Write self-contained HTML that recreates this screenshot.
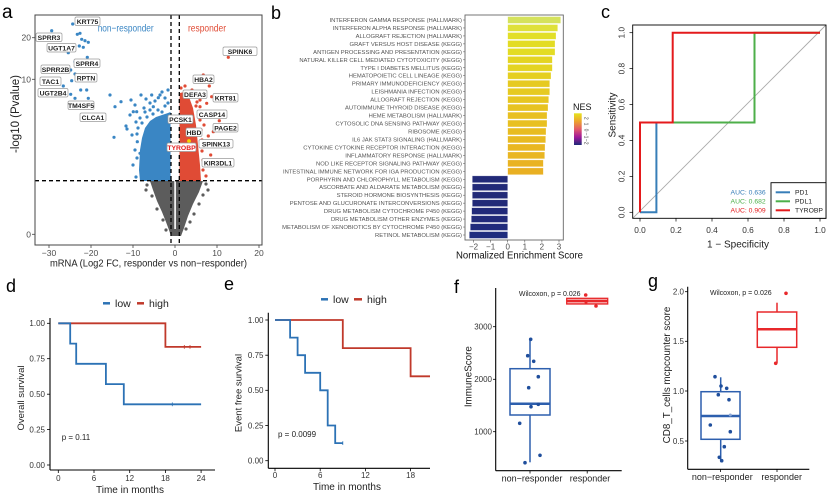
<!DOCTYPE html>
<html><head><meta charset="utf-8"><style>
html,body{margin:0;padding:0;background:#fff;}
svg{display:block;font-family:"Liberation Sans",Arial,sans-serif;}
</style></head><body>
<svg width="830" height="501" viewBox="0 0 830 501" xmlns="http://www.w3.org/2000/svg">
<rect width="830" height="501" fill="#fff"/>
<defs>
<linearGradient id="nes" x1="0" y1="0" x2="0" y2="1">
<stop offset="0" stop-color="#e6e31e"/><stop offset="0.25" stop-color="#eda52c"/><stop offset="0.5" stop-color="#e35a6a"/><stop offset="0.75" stop-color="#a0189a"/><stop offset="1" stop-color="#1e2a78"/>
</linearGradient>
</defs>

<!-- ============ PANEL A ============ -->
<text x="2" y="18" font-size="19" fill="#000">a</text>
<!-- clouds -->
<polygon fill="#5c5c5c" points="150,181 203,181 199,192 193,204 188,216 184,228 181,236 171,236 169,230 166,222 162,212 157,201 153,190"/>
<polygon fill="#3a86c4" points="170.5,181 140,181 139,170 140,150 142,138 145,128 150,121 156,117 162,115 168,113 170.5,112"/>
<polygon fill="#e04b35" points="179.5,181 201,181 200,165 198,145 196,125 193,108 189,97 184,92 180,93 179.5,100"/>
<rect x="174.3" y="181" width="1.6" height="48" fill="#fff"/>
<g fill="#3a86c4">
<circle cx="51.7" cy="30.7" r="1.6"/><circle cx="72.7" cy="24" r="1.6"/><circle cx="77.3" cy="34.3" r="1.6"/><circle cx="80" cy="33.3" r="1.6"/><circle cx="81.7" cy="39.3" r="1.6"/><circle cx="85" cy="40.7" r="1.6"/><circle cx="88.3" cy="42.3" r="1.6"/><circle cx="79.3" cy="46" r="1.6"/><circle cx="83.3" cy="47.3" r="1.6"/><circle cx="68.3" cy="52.7" r="1.6"/><circle cx="87.3" cy="57.3" r="1.6"/><circle cx="75" cy="61.7" r="1.6"/><circle cx="81.7" cy="64.3" r="1.6"/><circle cx="70.7" cy="70" r="1.6"/><circle cx="75" cy="74" r="1.6"/><circle cx="71.7" cy="80.7" r="1.6"/><circle cx="63.3" cy="86" r="1.6"/><circle cx="80.7" cy="90" r="1.6"/><circle cx="86.7" cy="90" r="1.6"/><circle cx="70.7" cy="94.3" r="1.6"/><circle cx="75" cy="98.3" r="1.6"/><circle cx="88.3" cy="98.3" r="1.6"/><circle cx="110" cy="95" r="1.6"/><circle cx="115" cy="106.7" r="1.6"/><circle cx="121" cy="101.7" r="1.6"/><circle cx="133.3" cy="111.7" r="1.6"/><circle cx="136.7" cy="111.7" r="1.6"/><circle cx="126" cy="126" r="1.6"/><circle cx="114" cy="137.3" r="1.6"/><circle cx="137.3" cy="141.7" r="1.6"/><circle cx="140" cy="153.3" r="1.6"/><circle cx="151.7" cy="95" r="1.6"/><circle cx="158.3" cy="97.7" r="1.6"/><circle cx="153.3" cy="106.7" r="1.6"/><circle cx="145" cy="112" r="1.6"/><circle cx="140" cy="118" r="1.6"/><circle cx="138" cy="128" r="1.6"/><circle cx="130" cy="115" r="1.6"/><circle cx="127" cy="129" r="1.6"/>
<circle cx="131" cy="100" r="1.6"/><circle cx="135" cy="105" r="1.6"/><circle cx="141" cy="95" r="1.6"/><circle cx="146" cy="99" r="1.6"/><circle cx="150" cy="103" r="1.6"/><circle cx="155" cy="101" r="1.6"/><circle cx="160" cy="95" r="1.6"/><circle cx="165" cy="98" r="1.6"/><circle cx="162" cy="92" r="1.6"/><circle cx="168" cy="90" r="1.6"/><circle cx="144" cy="108" r="1.6"/><circle cx="150" cy="110" r="1.6"/><circle cx="158" cy="110" r="1.6"/><circle cx="165" cy="106" r="1.6"/><circle cx="168" cy="103" r="1.6"/><circle cx="136" cy="122" r="1.6"/><circle cx="132" cy="135" r="1.6"/><circle cx="135" cy="150" r="1.6"/><circle cx="133" cy="165" r="1.6"/><circle cx="136" cy="177" r="1.6"/><circle cx="137" cy="158" r="1.6"/><circle cx="137" cy="134" r="1.6"/><circle cx="153" cy="114" r="1.6"/><circle cx="147" cy="117" r="1.6"/><circle cx="142" cy="123" r="1.6"/><circle cx="162" cy="112" r="1.6"/>
</g>
<g fill="#e04b35">
<circle cx="228.3" cy="57.3" r="1.6"/><circle cx="203.3" cy="75" r="1.6"/><circle cx="209.3" cy="86" r="1.6"/><circle cx="211.7" cy="96.7" r="1.6"/><circle cx="206.7" cy="103.3" r="1.6"/><circle cx="219.3" cy="120.7" r="1.6"/><circle cx="213.3" cy="131.7" r="1.6"/><circle cx="208.3" cy="136" r="1.6"/><circle cx="210.7" cy="155" r="1.6"/><circle cx="196.7" cy="96.7" r="1.6"/><circle cx="200" cy="106.7" r="1.6"/><circle cx="188" cy="92" r="1.6"/><circle cx="192" cy="90" r="1.6"/><circle cx="205" cy="115" r="1.6"/><circle cx="204" cy="125" r="1.6"/><circle cx="206" cy="145" r="1.6"/><circle cx="205" cy="165" r="1.6"/><circle cx="206" cy="176" r="1.6"/><circle cx="203" cy="112" r="1.6"/><circle cx="200" cy="100" r="1.6"/><circle cx="202" cy="140" r="1.6"/>
<circle cx="181" cy="88" r="1.6"/><circle cx="185" cy="86" r="1.6"/><circle cx="194" cy="95" r="1.6"/><circle cx="197" cy="102" r="1.6"/><circle cx="199" cy="112" r="1.6"/><circle cx="200" cy="120" r="1.6"/><circle cx="201" cy="130" r="1.6"/><circle cx="202" cy="151" r="1.6"/><circle cx="203" cy="160" r="1.6"/><circle cx="203" cy="170" r="1.6"/><circle cx="196" cy="106" r="1.6"/>
</g>
<g fill="#5c5c5c">
<circle cx="147" cy="185" r="1.6"/><circle cx="146" cy="190" r="1.6"/><circle cx="206" cy="184" r="1.6"/><circle cx="208" cy="190" r="1.6"/><circle cx="203" cy="195" r="1.6"/><circle cx="152" cy="196" r="1.6"/><circle cx="199" cy="204" r="1.6"/><circle cx="157" cy="209" r="1.6"/><circle cx="194" cy="214" r="1.6"/><circle cx="163" cy="220" r="1.6"/><circle cx="190" cy="222" r="1.6"/><circle cx="166" cy="230" r="1.6"/><circle cx="186" cy="229" r="1.6"/>
</g>
<circle cx="189" cy="141" r="1.9" fill="#f5d000"/>
<!-- dashed lines -->
<g stroke="#000" stroke-width="1.3" stroke-dasharray="4,3" fill="none">
<line x1="171" y1="15" x2="171" y2="245"/><line x1="179.3" y1="15" x2="179.3" y2="245"/>
<line x1="35" y1="180.7" x2="262" y2="180.7"/>
</g>
<rect x="35" y="15" width="227" height="230" fill="none" stroke="#444" stroke-width="1"/>
<!-- ticks -->
<g stroke="#444" stroke-width="0.8">
<line x1="49" y1="245" x2="49" y2="248"/><line x1="91" y1="245" x2="91" y2="248"/><line x1="133" y1="245" x2="133" y2="248"/><line x1="175" y1="245" x2="175" y2="248"/><line x1="217" y1="245" x2="217" y2="248"/><line x1="259" y1="245" x2="259" y2="248"/>
<line x1="32" y1="37.7" x2="35" y2="37.7"/><line x1="32" y1="79.3" x2="35" y2="79.3"/><line x1="32" y1="234.3" x2="35" y2="234.3"/>
</g>
<g font-size="8.5" fill="#4d4d4d" text-anchor="middle">
<text x="49" y="256">−30</text><text x="91" y="256">−20</text><text x="133" y="256">−10</text><text x="175" y="256">0</text><text x="217" y="256">10</text><text x="259" y="256">20</text>
</g>
<g font-size="8.5" fill="#4d4d4d" text-anchor="end">
<text x="31" y="40.7">20</text><text x="31" y="82.3">10</text><text x="31" y="237.3">0</text>
</g>
<text x="148.5" y="266.5" font-size="10" fill="#222" text-anchor="middle" textLength="197" lengthAdjust="spacingAndGlyphs">mRNA (Log2 FC, responder vs non−responder)</text>
<text transform="translate(19,114) rotate(-90)" font-size="11.5" fill="#222" text-anchor="middle">-log10 (Pvalue)</text>
<text x="97.7" y="31.5" font-size="10" fill="#3a86c4" textLength="56" lengthAdjust="spacingAndGlyphs">non−responder</text>
<text x="188" y="31.5" font-size="10" fill="#e04b35" textLength="38" lengthAdjust="spacingAndGlyphs">responder</text>
<!-- labels -->
<g fill="#fff" stroke="#9a9a9a" stroke-width="0.7">
<rect x="75" y="17" width="25" height="8.5" rx="1.5"/><rect x="36" y="33" width="26" height="8.5" rx="1.5"/><rect x="47" y="43.5" width="29" height="8.5" rx="1.5"/><rect x="74" y="59" width="26" height="8.5" rx="1.5"/><rect x="41" y="65" width="29" height="8.5" rx="1.5"/><rect x="75" y="73.5" width="22" height="8.5" rx="1.5"/><rect x="40" y="77" width="21" height="8.5" rx="1.5"/><rect x="38" y="88.5" width="30" height="8.5" rx="1.5"/><rect x="68" y="101" width="26" height="8.5" rx="1.5"/><rect x="80" y="113" width="26" height="8.5" rx="1.5"/><rect x="168" y="115" width="25" height="8.5" rx="1.5"/><rect x="193" y="75" width="21" height="8.5" rx="1.5"/><rect x="183" y="90" width="24" height="8.5" rx="1.5"/><rect x="213" y="93.5" width="25" height="8.5" rx="1.5"/><rect x="197" y="110" width="30" height="8.5" rx="1.5"/><rect x="213" y="123.5" width="25" height="8.5" rx="1.5"/><rect x="186" y="128" width="16" height="8.5" rx="1.5"/><rect x="199" y="139.5" width="34" height="8.5" rx="1.5"/><rect x="167" y="143" width="29" height="8.5" rx="1.5"/><rect x="202" y="158.5" width="32" height="8.5" rx="1.5"/><rect x="223" y="47" width="34" height="8.5" rx="1.5"/>
</g>
<g font-size="6.8" font-weight="bold" fill="#222" text-anchor="middle">
<text x="87.5" y="23.8">KRT75</text><text x="49" y="39.8">SPRR3</text><text x="61.5" y="50.3">UGT1A7</text><text x="87" y="65.8">SPRR4</text><text x="55.5" y="71.8">SPRR2B</text><text x="86" y="80.3">RPTN</text><text x="50.5" y="83.8">TAC1</text><text x="53" y="95.3">UGT2B4</text><text x="81" y="107.8">TM4SF5</text><text x="93" y="119.8">CLCA1</text><text x="180.5" y="121.8">PCSK1</text><text x="203.5" y="81.8">HBA2</text><text x="195" y="96.8">DEFA3</text><text x="225.5" y="100.3">KRT81</text><text x="212" y="116.8">CASP14</text><text x="225.5" y="130.3">PAGE2</text><text x="194" y="134.8">HBD</text><text x="216" y="146.3">SPINK13</text><text x="181.5" y="149.8" fill="#e41a1c">TYROBP</text><text x="218" y="165.3">KIR3DL1</text><text x="240" y="53.8">SPINK6</text>
</g>

<!-- ============ PANEL B ============ -->
<text x="271" y="19" font-size="18" fill="#000">b</text>
<g stroke="#fff" stroke-opacity="0.45" stroke-width="0.6">
<rect x="507.7" y="16.6" width="53" height="6.8" fill="#d5e25c"/>
<rect x="507.7" y="24.56" width="50" height="6.8" fill="#dfe13a"/>
<rect x="507.7" y="32.53" width="48.3" height="6.8" fill="#e2df28"/>
<rect x="507.7" y="40.49" width="47.3" height="6.8" fill="#e3dc24"/>
<rect x="507.7" y="48.45" width="47.3" height="6.8" fill="#e3dc24"/>
<rect x="507.7" y="56.41" width="44.6" height="6.8" fill="#e4d422"/>
<rect x="507.7" y="64.38" width="44.6" height="6.8" fill="#e4d422"/>
<rect x="507.7" y="72.34" width="43.3" height="6.8" fill="#e5cf21"/>
<rect x="507.7" y="80.3" width="42" height="6.8" fill="#e6ca21"/>
<rect x="507.7" y="88.27" width="42" height="6.8" fill="#e6ca21"/>
<rect x="507.7" y="96.23" width="41" height="6.8" fill="#e7c621"/>
<rect x="507.7" y="104.19" width="40.3" height="6.8" fill="#e7c321"/>
<rect x="507.7" y="112.16" width="39.3" height="6.8" fill="#e8c021"/>
<rect x="507.7" y="120.12" width="39.3" height="6.8" fill="#e8c021"/>
<rect x="507.7" y="128.08" width="38.3" height="6.8" fill="#e8bc21"/>
<rect x="507.7" y="136.04" width="38" height="6.8" fill="#e8ba22"/>
<rect x="507.7" y="144.01" width="37.3" height="6.8" fill="#e9b722"/>
<rect x="507.7" y="151.97" width="37" height="6.8" fill="#e9b622"/>
<rect x="507.7" y="159.93" width="35.6" height="6.8" fill="#e9b322"/>
<rect x="507.7" y="167.9" width="35.6" height="6.8" fill="#e9b022"/>
<rect x="472.3" y="175.86" width="35.4" height="6.8" fill="#222a78"/>
<rect x="472.3" y="183.82" width="35.4" height="6.8" fill="#222a78"/>
<rect x="472.3" y="191.79" width="35.4" height="6.8" fill="#222a78"/>
<rect x="472.3" y="199.75" width="35.4" height="6.8" fill="#222a78"/>
<rect x="471.7" y="207.71" width="36" height="6.8" fill="#212a7a"/>
<rect x="471.3" y="215.67" width="36.4" height="6.8" fill="#212a7a"/>
<rect x="470.3" y="223.64" width="37.4" height="6.8" fill="#202b7c"/>
<rect x="469.3" y="231.6" width="38.4" height="6.8" fill="#1f2c7e"/>
</g>
<rect x="465" y="15" width="98.3" height="225" fill="none" stroke="#666" stroke-width="0.9"/>
<g stroke="#555" stroke-width="0.6">
<line x1="473.5" y1="240" x2="473.5" y2="242.5"/><line x1="490.6" y1="240" x2="490.6" y2="242.5"/><line x1="507.7" y1="240" x2="507.7" y2="242.5"/><line x1="524.8" y1="240" x2="524.8" y2="242.5"/><line x1="541.9" y1="240" x2="541.9" y2="242.5"/><line x1="559" y1="240" x2="559" y2="242.5"/>
</g>
<g font-size="8" fill="#4d4d4d" text-anchor="middle">
<text x="473.5" y="249.5">−2</text><text x="490.6" y="249.5">−1</text><text x="507.7" y="249.5">0</text><text x="524.8" y="249.5">1</text><text x="541.9" y="249.5">2</text><text x="559" y="249.5">3</text>
</g>
<text x="519.5" y="258.5" font-size="9.8" fill="#111" text-anchor="middle" textLength="127" lengthAdjust="spacingAndGlyphs">Normalized Enrichment Score</text>
<g font-size="5.85" fill="#555" text-anchor="end">
<text x="462" y="22">INTERFERON GAMMA RESPONSE (HALLMARK)</text>
<text x="462" y="29.96">INTERFERON ALPHA RESPONSE (HALLMARK)</text>
<text x="462" y="37.93">ALLOGRAFT REJECTION (HALLMARK)</text>
<text x="462" y="45.89">GRAFT VERSUS HOST DISEASE (KEGG)</text>
<text x="462" y="53.85">ANTIGEN PROCESSING AND PRESENTATION (KEGG)</text>
<text x="462" y="61.81">NATURAL KILLER CELL MEDIATED CYTOTOXICITY (KEGG)</text>
<text x="462" y="69.78">TYPE I DIABETES MELLITUS (KEGG)</text>
<text x="462" y="77.74">HEMATOPOIETIC CELL LINEAGE (KEGG)</text>
<text x="462" y="85.7">PRIMARY IMMUNODEFICIENCY (KEGG)</text>
<text x="462" y="93.67">LEISHMANIA INFECTION (KEGG)</text>
<text x="462" y="101.63">ALLOGRAFT REJECTION (KEGG)</text>
<text x="462" y="109.59">AUTOIMMUNE THYROID DISEASE (KEGG)</text>
<text x="462" y="117.56">HEME METABOLISM (HALLMARK)</text>
<text x="462" y="125.52">CYTOSOLIC DNA SENSING PATHWAY (KEGG)</text>
<text x="462" y="133.48">RIBOSOME (KEGG)</text>
<text x="462" y="141.44">IL6 JAK STAT3 SIGNALING (HALLMARK)</text>
<text x="462" y="149.41">CYTOKINE CYTOKINE RECEPTOR INTERACTION (KEGG)</text>
<text x="462" y="157.37">INFLAMMATORY RESPONSE (HALLMARK)</text>
<text x="462" y="165.33">NOD LIKE RECEPTOR SIGNALING PATHWAY (KEGG)</text>
<text x="462" y="173.3">INTESTINAL IMMUNE NETWORK FOR IGA PRODUCTION (KEGG)</text>
<text x="462" y="181.26">PORPHYRIN AND CHLOROPHYLL METABOLISM (KEGG)</text>
<text x="462" y="189.22">ASCORBATE AND ALDARATE METABOLISM (KEGG)</text>
<text x="462" y="197.19">STEROID HORMONE BIOSYNTHESIS (KEGG)</text>
<text x="462" y="205.15">PENTOSE AND GLUCURONATE INTERCONVERSIONS (KEGG)</text>
<text x="462" y="213.11">DRUG METABOLISM CYTOCHROME P450 (KEGG)</text>
<text x="462" y="221.07">DRUG METABOLISM OTHER ENZYMES (KEGG)</text>
<text x="462" y="229.04">METABOLISM OF XENOBIOTICS BY CYTOCHROME P450 (KEGG)</text>
<text x="462" y="237">RETINOL METABOLISM (KEGG)</text>
</g>
<g stroke="#555" stroke-width="0.5">
<line x1="463" y1="20" x2="465" y2="20"/><line x1="463" y1="27.96" x2="465" y2="27.96"/><line x1="463" y1="35.93" x2="465" y2="35.93"/><line x1="463" y1="43.89" x2="465" y2="43.89"/><line x1="463" y1="51.85" x2="465" y2="51.85"/><line x1="463" y1="59.81" x2="465" y2="59.81"/><line x1="463" y1="67.78" x2="465" y2="67.78"/><line x1="463" y1="75.74" x2="465" y2="75.74"/><line x1="463" y1="83.7" x2="465" y2="83.7"/><line x1="463" y1="91.67" x2="465" y2="91.67"/><line x1="463" y1="99.63" x2="465" y2="99.63"/><line x1="463" y1="107.59" x2="465" y2="107.59"/><line x1="463" y1="115.56" x2="465" y2="115.56"/><line x1="463" y1="123.52" x2="465" y2="123.52"/><line x1="463" y1="131.48" x2="465" y2="131.48"/><line x1="463" y1="139.44" x2="465" y2="139.44"/><line x1="463" y1="147.41" x2="465" y2="147.41"/><line x1="463" y1="155.37" x2="465" y2="155.37"/><line x1="463" y1="163.33" x2="465" y2="163.33"/><line x1="463" y1="171.3" x2="465" y2="171.3"/><line x1="463" y1="179.26" x2="465" y2="179.26"/><line x1="463" y1="187.22" x2="465" y2="187.22"/><line x1="463" y1="195.19" x2="465" y2="195.19"/><line x1="463" y1="203.15" x2="465" y2="203.15"/><line x1="463" y1="211.11" x2="465" y2="211.11"/><line x1="463" y1="219.07" x2="465" y2="219.07"/><line x1="463" y1="227.04" x2="465" y2="227.04"/><line x1="463" y1="235" x2="465" y2="235"/>
</g>
<!-- legend NES -->
<text x="573" y="110" font-size="9" fill="#111">NES</text>
<rect x="574" y="113.3" width="7.7" height="31.7" fill="url(#nes)"/>
<g font-size="5" fill="#444">
<text transform="translate(584.5,118.3) rotate(90)" text-anchor="middle">2</text>
<text transform="translate(584.5,124) rotate(90)" text-anchor="middle">1</text>
<text transform="translate(584.5,130) rotate(90)" text-anchor="middle">0</text>
<text transform="translate(584.5,135.5) rotate(90)" text-anchor="middle">−1</text>
<text transform="translate(584.5,141.7) rotate(90)" text-anchor="middle">−2</text>
</g>

<!-- ============ PANEL C ============ -->
<text x="601" y="18" font-size="18" fill="#000">c</text>
<line x1="632.7" y1="218.3" x2="826" y2="25" stroke="#aaa" stroke-width="0.9"/>
<polyline points="640,212.3 656.4,212.3 656.4,122.5 672.7,122.5" fill="none" stroke="#377eb8" stroke-width="2"/>
<polyline points="640,212.3 640,122.5 754.5,122.5 754.5,32.7 820,32.7" fill="none" stroke="#4daf4a" stroke-width="2"/>
<polyline points="640,212.3 640,122.5 672.7,122.5 672.7,32.7 820,32.7" fill="none" stroke="#e41a1c" stroke-width="2"/>
<rect x="632.7" y="25" width="193.3" height="193.3" fill="none" stroke="#000" stroke-width="0.9"/>
<g stroke="#000" stroke-width="0.7">
<line x1="640" y1="218.3" x2="640" y2="221.5"/><line x1="676" y1="218.3" x2="676" y2="221.5"/><line x1="712" y1="218.3" x2="712" y2="221.5"/><line x1="748" y1="218.3" x2="748" y2="221.5"/><line x1="784" y1="218.3" x2="784" y2="221.5"/><line x1="820" y1="218.3" x2="820" y2="221.5"/>
<line x1="629.5" y1="212.3" x2="632.7" y2="212.3"/><line x1="629.5" y1="176.4" x2="632.7" y2="176.4"/><line x1="629.5" y1="140.4" x2="632.7" y2="140.4"/><line x1="629.5" y1="104.5" x2="632.7" y2="104.5"/><line x1="629.5" y1="68.6" x2="632.7" y2="68.6"/><line x1="629.5" y1="32.7" x2="632.7" y2="32.7"/>
</g>
<g font-size="8.3" fill="#333" text-anchor="middle">
<text x="640" y="233">0.0</text><text x="676" y="233">0.2</text><text x="712" y="233">0.4</text><text x="748" y="233">0.6</text><text x="784" y="233">0.8</text><text x="820" y="233">1.0</text>
<text transform="translate(624.5,212.3) rotate(-90)">0.0</text>
<text transform="translate(624.5,176.4) rotate(-90)">0.2</text>
<text transform="translate(624.5,140.4) rotate(-90)">0.4</text>
<text transform="translate(624.5,104.5) rotate(-90)">0.6</text>
<text transform="translate(624.5,68.6) rotate(-90)">0.8</text>
<text transform="translate(624.5,32.7) rotate(-90)">1.0</text>
</g>
<text x="738" y="247.5" font-size="10" fill="#222" text-anchor="middle">1 − Specificity</text>
<text transform="translate(615.5,115) rotate(-90)" font-size="10" fill="#222" text-anchor="middle">Sensitivity</text>
<rect x="771" y="182.7" width="55" height="35.6" fill="#fff" stroke="#000" stroke-width="0.9"/>
<line x1="775.7" y1="192.3" x2="790" y2="192.3" stroke="#377eb8" stroke-width="2"/>
<line x1="775.7" y1="201.3" x2="790" y2="201.3" stroke="#4daf4a" stroke-width="2"/>
<line x1="775.7" y1="210.3" x2="790" y2="210.3" stroke="#e41a1c" stroke-width="2"/>
<g font-size="6.8" fill="#222">
<text x="795" y="194.7">PD1</text><text x="795" y="203.7">PDL1</text><text x="795" y="212.7">TYROBP</text>
</g>
<g font-size="6.8" text-anchor="end">
<text x="765.7" y="194.7" fill="#377eb8">AUC: 0.636</text><text x="765.7" y="203.7" fill="#4daf4a">AUC: 0.682</text><text x="765.7" y="212.7" fill="#e41a1c">AUC: 0.909</text>
</g>

<!-- ============ PANEL D ============ -->
<text x="6" y="292" font-size="18" fill="#000">d</text>
<line x1="103" y1="303.3" x2="110" y2="303.3" stroke="#2c72b5" stroke-width="2.5"/>
<text x="115" y="307" font-size="10.5" fill="#222">low</text>
<line x1="137" y1="303.3" x2="144" y2="303.3" stroke="#c0392b" stroke-width="2.5"/>
<text x="149" y="307" font-size="10.5" fill="#222">high</text>
<polyline points="58.3,323.3 165.4,323.3 165.4,346.9 201.1,346.9" fill="none" stroke="#c0392b" stroke-width="1.8"/>
<polyline points="58.3,323.3 70.2,323.3 70.2,343.6 76.2,343.6 76.2,363.8 105.9,363.8 105.9,384.1 123.8,384.1 123.8,404.3 201.1,404.3" fill="none" stroke="#2c72b5" stroke-width="1.8"/>
<g stroke-width="0.8">
<line x1="184.3" y1="345" x2="184.3" y2="348.8" stroke="#c0392b"/><line x1="190" y1="345" x2="190" y2="348.8" stroke="#c0392b"/>
<line x1="172.3" y1="402.4" x2="172.3" y2="406.2" stroke="#2c72b5"/>
</g>
<g stroke="#000" stroke-width="1.1">
<line x1="50" y1="318" x2="50" y2="470"/><line x1="50" y1="470" x2="215" y2="470"/>
</g>
<g stroke="#000" stroke-width="0.8">
<line x1="47" y1="323.3" x2="50" y2="323.3"/><line x1="47" y1="358.7" x2="50" y2="358.7"/><line x1="47" y1="394.2" x2="50" y2="394.2"/><line x1="47" y1="429.6" x2="50" y2="429.6"/><line x1="47" y1="465" x2="50" y2="465"/>
<line x1="58.3" y1="470" x2="58.3" y2="473"/><line x1="94" y1="470" x2="94" y2="473"/><line x1="129.7" y1="470" x2="129.7" y2="473"/><line x1="165.4" y1="470" x2="165.4" y2="473"/><line x1="201.1" y1="470" x2="201.1" y2="473"/>
</g>
<g font-size="8" fill="#333" text-anchor="end">
<text x="45" y="326">1.00</text><text x="45" y="361.5">0.75</text><text x="45" y="397">0.50</text><text x="45" y="432.4">0.25</text><text x="45" y="467.8">0.00</text>
</g>
<g font-size="8" fill="#333" text-anchor="middle">
<text x="58.3" y="481">0</text><text x="94" y="481">6</text><text x="129.7" y="481">12</text><text x="165.4" y="481">18</text><text x="201.1" y="481">24</text>
</g>
<text x="130" y="493" font-size="10" fill="#222" text-anchor="middle">Time in months</text>
<text transform="translate(24,398) rotate(-90)" font-size="9.5" fill="#222" text-anchor="middle">Overall survival</text>
<text x="61.7" y="440" font-size="8" fill="#222">p = 0.11</text>

<!-- ============ PANEL E ============ -->
<text x="224" y="290" font-size="18" fill="#000">e</text>
<line x1="321" y1="299.3" x2="328" y2="299.3" stroke="#2c72b5" stroke-width="2.5"/>
<text x="333" y="303" font-size="10.5" fill="#222">low</text>
<line x1="354" y1="299.3" x2="362" y2="299.3" stroke="#c0392b" stroke-width="2.5"/>
<text x="367" y="303" font-size="10.5" fill="#222">high</text>
<polyline points="275,320 342.8,320 342.8,348.1 410.6,348.1 410.6,376.3 430,376.3" fill="none" stroke="#c0392b" stroke-width="1.8"/>
<polyline points="275,320 290.1,320 290.1,337.6 297.6,337.6 297.6,355.2 305.1,355.2 305.1,372.8 320.2,372.8 320.2,390.3 327.7,390.3 327.7,425.5 335.2,425.5 335.2,443.1 342.8,443.1" fill="none" stroke="#2c72b5" stroke-width="1.8"/>
<line x1="342.8" y1="441.2" x2="342.8" y2="445" stroke="#2c72b5" stroke-width="0.8"/>
<g stroke="#000" stroke-width="1.1">
<line x1="268.3" y1="312.7" x2="268.3" y2="468.3"/><line x1="268.3" y1="468.3" x2="430" y2="468.3"/>
</g>
<g stroke="#000" stroke-width="0.8">
<line x1="265.3" y1="320" x2="268.3" y2="320"/><line x1="265.3" y1="355.2" x2="268.3" y2="355.2"/><line x1="265.3" y1="390.3" x2="268.3" y2="390.3"/><line x1="265.3" y1="425.5" x2="268.3" y2="425.5"/><line x1="265.3" y1="460.7" x2="268.3" y2="460.7"/>
<line x1="275" y1="468.3" x2="275" y2="471.3"/><line x1="320.2" y1="468.3" x2="320.2" y2="471.3"/><line x1="365.4" y1="468.3" x2="365.4" y2="471.3"/><line x1="410.6" y1="468.3" x2="410.6" y2="471.3"/>
</g>
<g font-size="8" fill="#333" text-anchor="end">
<text x="263.5" y="322.8">1.00</text><text x="263.5" y="358">0.75</text><text x="263.5" y="393.1">0.50</text><text x="263.5" y="428.3">0.25</text><text x="263.5" y="463.5">0.00</text>
</g>
<g font-size="8" fill="#333" text-anchor="middle">
<text x="275" y="478">0</text><text x="320.2" y="478">6</text><text x="365.4" y="478">12</text><text x="410.6" y="478">18</text>
</g>
<text x="347" y="490" font-size="10" fill="#222" text-anchor="middle">Time in months</text>
<text transform="translate(241.5,393) rotate(-90)" font-size="9.5" fill="#222" text-anchor="middle">Event free survival</text>
<text x="278" y="437" font-size="8" fill="#222">p = 0.0099</text>

<!-- ============ PANEL F ============ -->
<text x="454" y="293" font-size="18" fill="#000">f</text>
<line x1="530" y1="339.3" x2="530" y2="462.3" stroke="#2d5fae" stroke-width="1.5"/>
<rect x="510" y="368.7" width="40" height="46.3" fill="#fff" stroke="#2d5fae" stroke-width="1.5"/>
<line x1="510" y1="403.7" x2="550" y2="403.7" stroke="#2d5fae" stroke-width="2.5"/>
<g fill="#1f4e9c">
<circle cx="530.7" cy="339.3" r="1.8"/><circle cx="527.7" cy="355.7" r="1.8"/><circle cx="533.7" cy="361.3" r="1.8"/><circle cx="538.3" cy="376.7" r="1.8"/><circle cx="528.7" cy="387.7" r="1.8"/><circle cx="531" cy="406.7" r="1.8"/><circle cx="538.3" cy="404.3" r="1.8"/><circle cx="519.7" cy="423.3" r="1.8"/><circle cx="540" cy="455.3" r="1.8"/><circle cx="525" cy="462.7" r="1.8"/>
</g>
<rect x="566.7" y="298.3" width="41" height="5.7" fill="#f4a0a0" stroke="#e8282b" stroke-width="1.3"/>
<line x1="566.7" y1="301" x2="607.7" y2="301" stroke="#e8282b" stroke-width="2"/>
<g fill="#e8282b">
<circle cx="585.7" cy="295" r="1.8"/><circle cx="596" cy="306" r="1.8"/><circle cx="586" cy="302.5" r="1.5"/>
</g>
<g stroke="#000" stroke-width="1.1">
<line x1="495.7" y1="288" x2="495.7" y2="470.7"/><line x1="495.7" y1="470.7" x2="621.7" y2="470.7"/>
</g>
<g stroke="#000" stroke-width="0.8">
<line x1="493" y1="326.7" x2="495.7" y2="326.7"/><line x1="493" y1="379.3" x2="495.7" y2="379.3"/><line x1="493" y1="431.7" x2="495.7" y2="431.7"/>
<line x1="530" y1="470.7" x2="530" y2="473.5"/><line x1="587.2" y1="470.7" x2="587.2" y2="473.5"/>
</g>
<g font-size="8" fill="#333" text-anchor="end">
<text x="492" y="329.5">3000</text><text x="492" y="382.1">2000</text><text x="492" y="434.5">1000</text>
</g>
<g font-size="9" fill="#222" text-anchor="middle">
<text x="532" y="481.5">non−responder</text><text x="590" y="481.5">responder</text>
</g>
<text transform="translate(471.5,376.7) rotate(-90)" font-size="9.8" fill="#222" text-anchor="middle">ImmuneScore</text>
<text x="549.7" y="296" font-size="7" fill="#222" text-anchor="middle">Wilcoxon, p = 0.026</text>

<!-- ============ PANEL G ============ -->
<text x="648" y="287" font-size="18" fill="#000">g</text>
<line x1="720.7" y1="377.3" x2="720.7" y2="460.7" stroke="#2d5fae" stroke-width="1.5"/>
<rect x="701" y="391.7" width="39" height="47.6" fill="#fff" stroke="#2d5fae" stroke-width="1.5"/>
<line x1="701" y1="416" x2="740" y2="416" stroke="#2d5fae" stroke-width="2.5"/>
<g fill="#1f4e9c">
<circle cx="715" cy="376.7" r="1.8"/><circle cx="721" cy="386" r="1.8"/><circle cx="726.7" cy="388.3" r="1.8"/><circle cx="718.3" cy="394.7" r="1.8"/><circle cx="729" cy="399.7" r="1.8"/><circle cx="710.3" cy="425" r="1.8"/><circle cx="730.3" cy="431.7" r="1.8"/><circle cx="724.3" cy="446.7" r="1.8"/><circle cx="719.3" cy="457.3" r="1.8"/><circle cx="721.7" cy="460.7" r="1.8"/>
</g>
<circle cx="730.3" cy="415" r="1.5" fill="#8aa6d6"/>
<line x1="777" y1="302.7" x2="777" y2="312" stroke="#e8282b" stroke-width="1.5"/>
<line x1="777" y1="347.3" x2="777" y2="363.3" stroke="#e8282b" stroke-width="1.5"/>
<rect x="757.3" y="312" width="39.4" height="35.3" fill="#fff" stroke="#e8282b" stroke-width="1.5"/>
<line x1="757.3" y1="329.3" x2="796.7" y2="329.3" stroke="#e8282b" stroke-width="2.5"/>
<circle cx="786" cy="293.3" r="1.8" fill="#e8282b"/><circle cx="775.7" cy="363.3" r="1.8" fill="#e8282b"/>
<g stroke="#000" stroke-width="1.1">
<line x1="687.7" y1="286.7" x2="687.7" y2="469.3"/><line x1="687.7" y1="469.3" x2="809.3" y2="469.3"/>
</g>
<g stroke="#000" stroke-width="0.8">
<line x1="685" y1="291.7" x2="687.7" y2="291.7"/><line x1="685" y1="341.3" x2="687.7" y2="341.3"/><line x1="685" y1="391" x2="687.7" y2="391"/><line x1="685" y1="441" x2="687.7" y2="441"/>
<line x1="720.5" y1="469.3" x2="720.5" y2="472"/><line x1="777" y1="469.3" x2="777" y2="472"/>
</g>
<g font-size="8" fill="#333" text-anchor="end">
<text x="684" y="294.5">2.0</text><text x="684" y="344.1">1.5</text><text x="684" y="393.8">1.0</text><text x="684" y="443.8">0.5</text>
</g>
<g font-size="9" fill="#222" text-anchor="middle">
<text x="722.3" y="480">non−responder</text><text x="781.7" y="480">responder</text>
</g>
<text transform="translate(670,375) rotate(-90)" font-size="9.8" fill="#222" text-anchor="middle">CD8_T_cells mcpcounter score</text>
<text x="740.8" y="295" font-size="7" fill="#222" text-anchor="middle">Wilcoxon, p = 0.026</text>
</svg>
</body></html>
